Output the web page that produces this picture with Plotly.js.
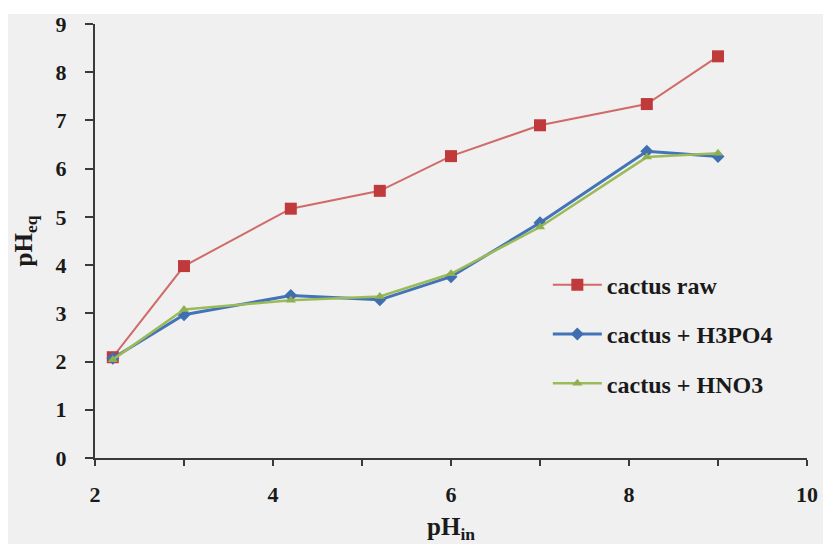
<!DOCTYPE html>
<html>
<head>
<meta charset="utf-8">
<script src="https://cdn.plot.ly/plotly-3.0.1.min.js"></script>
<style>
  html, body { margin: 0; padding: 0; background: #ffffff; }
  #chart { position: absolute; left: 0px; top: 0px; width: 823px; height: 544px; }
</style>
</head>
<body>
<div id="chart"></div>
<script>
// Data
const phIn = [2.2, 3, 4.2, 5.2, 6, 7, 8.2, 9];
const cactusRaw = [2.09, 3.98, 5.17, 5.54, 6.26, 6.90, 7.34, 8.33];
const cactusH3PO4 = [2.07, 2.97, 3.37, 3.28, 3.76, 4.88, 6.36, 6.25];
const cactusHNO3 = [2.04, 3.08, 3.27, 3.35, 3.82, 4.79, 6.24, 6.32];
const seriesNames = ['cactus raw', 'cactus + H3PO4', 'cactus + HNO3'];
const xTickVals = [2, 4, 6, 8, 10];
const xTickText = ['2', '4', '6', '8', '10'];
const yTickVals = [0, 1, 2, 3, 4, 5, 6, 7, 8, 9];
const yTickText = ['0', '1', '2', '3', '4', '5', '6', '7', '8', '9'];

const serif = '"Liberation Serif", "Times New Roman", serif';
const tickF = { family: serif, size: 22, color: '#1a1a1a', weight: 'bold' };
const legF = { family: serif, size: 24, color: '#1a1a1a', weight: 'bold' };
const titleF = { family: serif, size: 25, color: '#1a1a1a', weight: 'bold' };

const traces = [
  {
    x: phIn, y: cactusRaw, name: seriesNames[0], legendgroup: 'a',
    mode: 'lines+markers', type: 'scatter',
    line: { color: '#CF6B68', width: 2 },
    marker: { symbol: 'square', size: 12, color: '#C0393B', line: { width: 0 } }
  },
  {
    x: phIn, y: cactusH3PO4, name: seriesNames[1], legendgroup: 'b',
    mode: 'lines+markers', type: 'scatter',
    line: { color: '#4373B8', width: 3 },
    marker: { symbol: 'diamond', size: 10, color: '#3F6FB0', line: { width: 0 } }
  },
  {
    x: phIn, y: cactusHNO3, name: seriesNames[2], legendgroup: 'c',
    mode: 'lines+markers', type: 'scatter',
    line: { color: '#9BBB59', width: 2.5 },
    marker: { symbol: 'triangle-up', size: 9, color: '#8FB050', line: { width: 0 } }
  }
];

// plot area: x 95..807, y 24..458 (px)
const plotH = 434, plotW = 712;
const layout = {
  width: 823, height: 544,
  paper_bgcolor: '#f0f0f0',
  plot_bgcolor: '#f0f0f0',
  margin: { l: 95, r: 16, t: 24, b: 86 },
  font: tickF,
  showlegend: true,
  shapes: [
    // white strip along the top edge of the picture
    { type: 'rect', xref: 'paper', yref: 'paper', layer: 'below',
      x0: -95 / plotW, x1: 1 + 16 / plotW, y0: 1 + 10 / plotH, y1: 1 + 24 / plotH,
      fillcolor: '#ffffff', line: { width: 0 } },
    // white strip along the left edge of the picture
    { type: 'rect', xref: 'paper', yref: 'paper', layer: 'below',
      x0: -95 / plotW, x1: -87 / plotW, y0: -86 / plotH, y1: 1 + 24 / plotH,
      fillcolor: '#ffffff', line: { width: 0 } }
  ],
  legend: {
    x: 0.636, y: 0.45, xanchor: 'left', yanchor: 'top',
    bgcolor: 'rgba(0,0,0,0)',
    traceorder: 'grouped', tracegroupgap: 15,
    itemwidth: 49,
    font: legF
  },
  xaxis: {
    range: [2, 10],
    tickmode: 'array', tickvals: xTickVals, ticktext: xTickText,
    showgrid: false, zeroline: false,
    showline: true, linecolor: '#3a3a3a', linewidth: 2,
    ticks: 'outside', ticklen: 6, tickwidth: 2, tickcolor: '#3a3a3a',
    minor: { dtick: 1, ticks: 'outside', ticklen: 6, tickwidth: 2, tickcolor: '#3a3a3a', showgrid: false },
    ticklabelstandoff: 10,
    tickfont: tickF,
    title: { text: 'pH<sub>in</sub>', standoff: 24, font: titleF },
    automargin: false,
    fixedrange: true
  },
  yaxis: {
    range: [0, 9],
    tickmode: 'array', tickvals: yTickVals, ticktext: yTickText,
    showgrid: false, zeroline: false,
    showline: true, linecolor: '#3a3a3a', linewidth: 2,
    ticks: 'outside', ticklen: 8, tickwidth: 2, tickcolor: '#3a3a3a',
    ticklabelstandoff: 14,
    tickfont: tickF,
    title: { text: 'pH<sub>eq</sub>', standoff: 16, font: titleF },
    automargin: false,
    fixedrange: true
  }
};

Plotly.newPlot('chart', traces, layout, { displayModeBar: false, staticPlot: true });
</script>
</body>
</html>
